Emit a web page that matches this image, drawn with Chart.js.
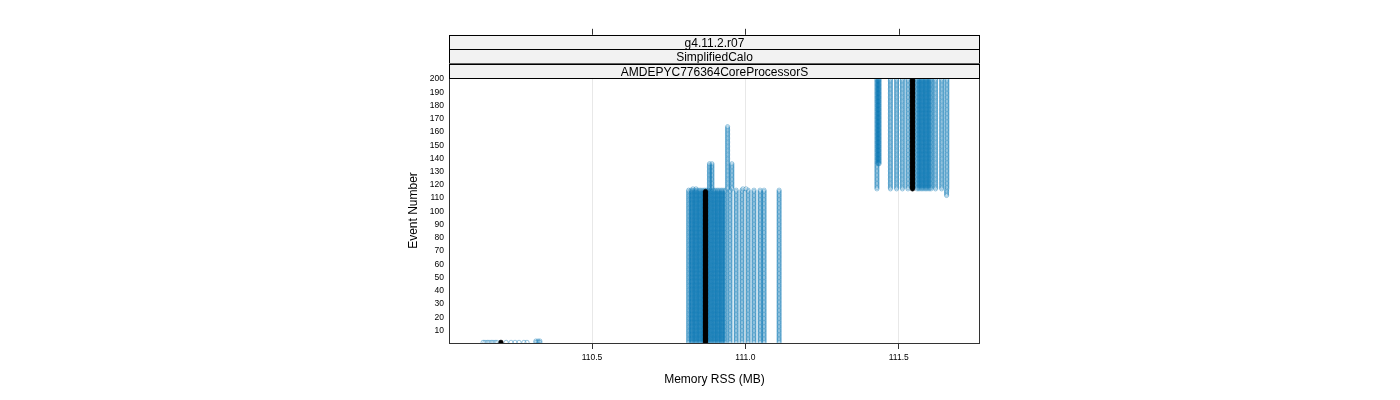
<!DOCTYPE html>
<html>
<head>
<meta charset="utf-8">
<script src="https://cdn.jsdelivr.net/npm/chart.js@4/dist/chart.umd.min.js"></script>
<style>
  html, body { margin: 0; padding: 0; background: #ffffff; }
  #wrap { width: 1400px; height: 400px; }
</style>
</head>
<body>
<div id="wrap"><canvas id="c" width="1400" height="400"></canvas></div>
<script>
// ---------------- data ----------------
const stripLabels = ['g4.11.2.r07', 'SimplifiedCalo', 'AMDEPYC776364CoreProcessorS'];
const xTickValues = [110.5, 111.0, 111.5];
const xTickLabels = ['110.5', '111.0', '111.5'];
const yTickValues = [10, 20, 30, 40, 50, 60, 70, 80, 90, 100, 110, 120, 130, 140, 150, 160, 170, 180, 190, 200];

// Memory RSS (MB) of the runs at event 1 (low start)
const eventOneMB = [110.145, 110.151, 110.158, 110.164, 110.171, 110.177, 110.184, 110.190,
                    110.220, 110.236, 110.249, 110.262, 110.278, 110.288];
// runs at events 1-2 near 110.32
const eventOneTailMB = [110.317, 110.324, 110.330];
const eventOneTailEvents = [1, 2];

// plateau 1 : events 1 .. 116
const plateauOneEvents = [1, 116];
const plateauOneMB = [110.815, 110.823, 110.829, 110.836, 110.842, 110.849, 110.855, 110.862,
                      110.868, 110.875, 110.881, 110.888, 110.895, 110.901, 110.908, 110.914,
                      110.921, 110.927, 110.934, 110.950, 110.970, 110.989, 111.009, 111.028,
                      111.048, 111.061, 111.110];
// runs staying longer on plateau 1: [MB, first event, last event]
const plateauOneLate = [[110.883, 117, 136], [110.891, 117, 136], [110.942, 117, 164],
                        [110.956, 117, 136], [110.829, 117, 117], [110.839, 117, 117],
                        [110.992, 117, 117], [111.002, 117, 117]];

// plateau 2 : events 117 .. 200
const plateauTwoEvents = [117, 200];
const plateauTwoMB = [111.429, 111.473, 111.493, 111.512, 111.530, 111.560, 111.566, 111.573,
                      111.579, 111.586, 111.592, 111.599, 111.605, 111.620, 111.640, 111.657];
// runs joining plateau 2 at other events: [MB, first event, last event]
const plateauTwoOther = [[111.433, 136, 200], [111.436, 136, 200], [111.656, 112, 116]];

// median per event: [MB, first event, last event]
const medianSegments = [[110.203, 1, 1], [110.870, 1, 115], [111.545, 117, 200]];

// ---------------- build point lists (one point per event) ----------------
function expand(mb, first, last, out) {
  for (let e = first; e <= last; e++) out.push({ x: mb, y: e });
}
const runPoints = [];
eventOneMB.forEach(v => expand(v, 1, 1, runPoints));
eventOneTailMB.forEach(v => expand(v, eventOneTailEvents[0], eventOneTailEvents[1], runPoints));
plateauOneMB.forEach(v => expand(v, plateauOneEvents[0], plateauOneEvents[1], runPoints));
plateauOneLate.forEach(s => expand(s[0], s[1], s[2], runPoints));
plateauTwoMB.forEach(v => expand(v, plateauTwoEvents[0], plateauTwoEvents[1], runPoints));
plateauTwoOther.forEach(s => expand(s[0], s[1], s[2], runPoints));

const medianPoints = [];
medianSegments.forEach(s => expand(s[0], s[1], s[2], medianPoints));

// ---------------- chart ----------------
const FONT = '"Liberation Sans", Arial, Helvetica, sans-serif';

const latticePlugin = {
  id: 'lattice',
  afterDatasetsDraw(chart) {
    const { ctx, chartArea: a, scales: { x } } = chart;
    ctx.save();
    // panel border
    ctx.strokeStyle = '#333333';
    ctx.lineWidth = 1;
    ctx.strokeRect(a.left + 0.5, a.top + 0.5, a.right - a.left - 1, a.bottom - a.top);
    // strips
    const stripH = 14.4;
    const n = stripLabels.length;
    const top0 = a.top - n * stripH;
    for (let i = 0; i < n; i++) {
      const y0 = top0 + i * stripH;
      ctx.fillStyle = '#f2f2f2';
      ctx.fillRect(a.left, y0, a.right - a.left, stripH);
      ctx.strokeStyle = '#000000';
      ctx.strokeRect(a.left + 0.5, Math.round(y0) + 0.5, a.right - a.left - 1, Math.round(stripH));
      ctx.fillStyle = '#000000';
      ctx.font = '12px ' + FONT;
      ctx.textAlign = 'center';
      ctx.textBaseline = 'middle';
      ctx.fillText(stripLabels[i], (a.left + a.right) / 2, y0 + stripH / 2 + 1.5);
    }
    // top tick marks
    ctx.strokeStyle = '#333333';
    xTickValues.forEach(v => {
      const px = Math.round(x.getPixelForValue(v)) + 0.5;
      ctx.beginPath();
      ctx.moveTo(px, top0);
      ctx.lineTo(px, top0 - 6);
      ctx.stroke();
    });
    ctx.restore();
  }
};

new Chart(document.getElementById('c'), {
  type: 'scatter',
  data: {
    datasets: [
      {
        // median (first dataset is drawn on top)
        data: medianPoints,
        pointStyle: 'circle',
        pointRadius: 2.3,
        pointBorderWidth: 0.5,
        pointBorderColor: '#000000',
        pointBackgroundColor: '#000000',
        pointHoverRadius: 0,
        clip: 0
      },
      {
        data: runPoints,
        pointStyle: 'circle',
        pointRadius: 2.1,
        pointBorderWidth: 1,
        pointBorderColor: 'rgba(0,114,178,0.4)',
        pointBackgroundColor: 'rgba(0,0,0,0)',
        pointHoverRadius: 0,
        clip: 0
      }
    ]
  },
  options: {
    responsive: false,
    animation: false,
    events: [],
    layout: { padding: { left: 406, right: 420, top: 78, bottom: 13 } },
    plugins: { legend: { display: false }, tooltip: { enabled: false } },
    scales: {
      x: {
        type: 'linear',
        position: 'bottom',
        min: 110.0337,
        max: 111.765,
        afterBuildTicks: s => { s.ticks = xTickValues.map(v => ({ value: v })); },
        afterFit: s => { s.height = 44; },
        ticks: {
          callback: (v, i) => xTickLabels[i],
          font: { family: FONT, size: 8.5 },
          color: '#000000',
          padding: 4,
          maxRotation: 0,
          autoSkip: false
        },
        grid: { color: '#e8e8e8', tickColor: '#333333', tickLength: 6, drawTicks: true, lineWidth: 1 },
        border: { display: false },
        title: { display: true, text: 'Memory RSS (MB)', font: { family: FONT, size: 12 }, color: '#000000', padding: 0 }
      },
      y: {
        type: 'linear',
        min: 0.5,
        max: 200.8,
        afterBuildTicks: s => { s.ticks = yTickValues.map(v => ({ value: v })); },
        afterFit: s => { s.width = 43; },
        ticks: {
          font: { family: FONT, size: 8.5 },
          color: '#000000',
          padding: 5,
          autoSkip: false
        },
        grid: { display: false, drawTicks: false },
        border: { display: false },
        title: { display: true, text: 'Event Number', font: { family: FONT, size: 12 }, color: '#000000', padding: 0 }
      }
    }
  },
  plugins: [latticePlugin]
});
</script>
</body>
</html>
